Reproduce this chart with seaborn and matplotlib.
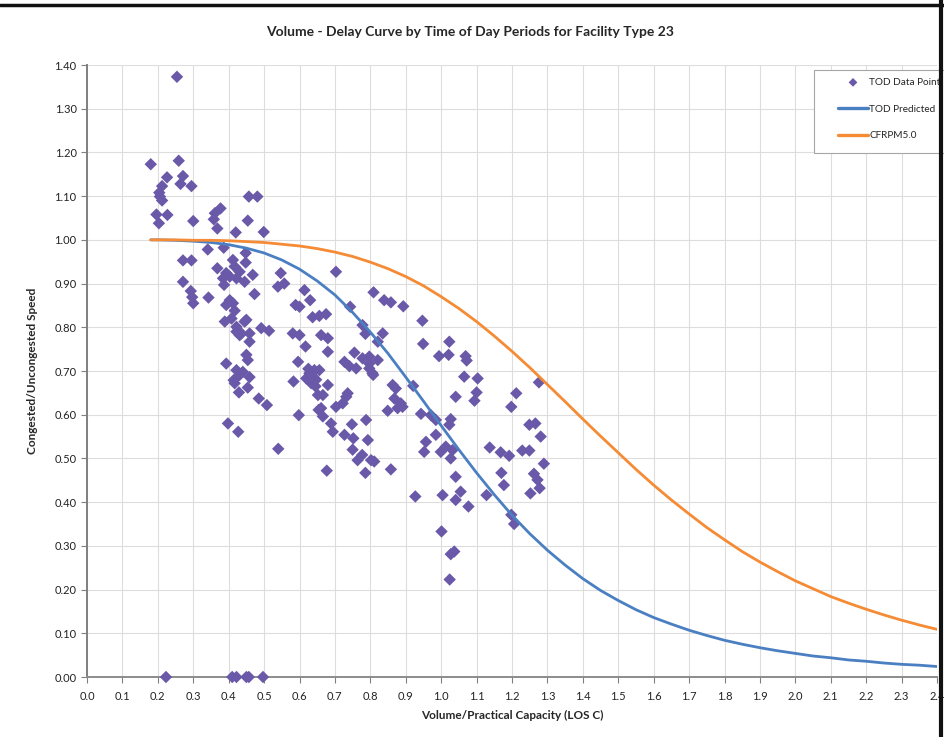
import matplotlib
matplotlib.use("Agg")
import matplotlib.pyplot as plt
from matplotlib.lines import Line2D
from matplotlib.patches import Rectangle
import seaborn as sns
import pandas as pd

# observed TOD points (volume/capacity, congested/uncongested speed)
vc_obs = [
    0.254, 0.180, 0.259, 0.226, 0.271, 0.264, 0.295, 0.212, 0.204, 0.206,
    0.212, 0.457, 0.481, 0.196, 0.227, 0.203, 0.300, 0.377, 0.361, 0.358,
    0.368, 0.454, 0.420, 0.499, 0.341, 0.386, 0.271, 0.295, 0.448, 0.448,
    0.368, 0.412, 0.417, 0.393, 0.431, 0.384, 0.403, 0.422, 0.468, 0.387,
    0.445, 0.271, 0.293, 0.297, 0.300, 0.343, 0.473, 0.403, 0.412, 0.539,
    0.547, 0.557, 0.614, 0.630, 0.703, 0.809, 0.589, 0.600, 0.743, 0.393,
    0.417, 0.389, 0.408, 0.422, 0.436, 0.450, 0.459, 0.459, 0.492, 0.514,
    0.637, 0.656, 0.675, 0.581, 0.600, 0.617, 0.661, 0.680, 0.680, 0.778,
    0.786, 0.755, 0.727, 0.741, 0.760, 0.778, 0.797, 0.806, 0.797, 0.821,
    0.808, 0.797, 0.450, 0.454, 0.393, 0.422, 0.431, 0.414, 0.417, 0.459,
    0.429, 0.454, 0.485, 0.508, 0.398, 0.427, 0.540, 0.596, 0.583, 0.628,
    0.637, 0.647, 0.628, 0.656, 0.642, 0.619, 0.633, 0.645, 0.625, 0.680,
    0.652, 0.666, 0.598, 0.654, 0.666, 0.661, 0.703, 0.722, 0.732, 0.736,
    0.689, 0.694, 0.677, 0.748, 0.788, 0.727, 0.752, 0.793, 0.750, 0.764,
    0.777, 0.802, 0.811, 0.786, 0.858, 0.839, 0.858, 0.893, 0.835, 0.821,
    0.863, 0.872, 0.868, 0.886, 0.877, 0.849, 0.891, 0.947, 0.949, 1.023,
    0.994, 1.021, 1.069, 1.072, 1.065, 1.103, 1.100, 1.094, 1.212, 1.198,
    1.276, 0.921, 1.041, 0.943, 0.971, 0.985, 1.027, 1.023, 1.249, 1.266,
    1.281, 0.985, 0.957, 0.952, 0.999, 1.013, 1.032, 1.027, 1.137, 1.168,
    1.192, 1.229, 1.249, 1.290, 1.041, 1.170, 1.177, 1.262, 1.272, 1.278,
    1.252, 0.927, 1.004, 1.055, 1.128, 1.041, 1.077, 1.198, 1.206, 1.001,
    1.027, 1.037, 1.024, 0.422, 0.431, 0.445, 0.440,
    0.223, 0.410, 0.422, 0.450, 0.457, 0.497,
]
speed_obs = [
    1.373, 1.173, 1.181, 1.143, 1.146, 1.128, 1.123, 1.123, 1.108, 1.099,
    1.090, 1.099, 1.099, 1.058, 1.057, 1.038, 1.043, 1.072, 1.061, 1.047,
    1.026, 1.044, 1.017, 1.018, 0.978, 0.982, 0.953, 0.953, 0.970, 0.948,
    0.935, 0.954, 0.939, 0.924, 0.927, 0.912, 0.916, 0.912, 0.920, 0.897,
    0.904, 0.904, 0.883, 0.869, 0.855, 0.868, 0.876, 0.862, 0.855, 0.893,
    0.924, 0.900, 0.885, 0.862, 0.927, 0.880, 0.851, 0.847, 0.847, 0.851,
    0.838, 0.813, 0.820, 0.801, 0.786, 0.817, 0.786, 0.767, 0.798, 0.792,
    0.823, 0.826, 0.830, 0.786, 0.782, 0.756, 0.782, 0.775, 0.744, 0.805,
    0.785, 0.742, 0.721, 0.711, 0.706, 0.729, 0.717, 0.695, 0.733, 0.725,
    0.691, 0.706, 0.737, 0.725, 0.717, 0.702, 0.691, 0.679, 0.672, 0.686,
    0.651, 0.662, 0.637, 0.622, 0.580, 0.561, 0.522, 0.721, 0.676, 0.695,
    0.687, 0.680, 0.680, 0.702, 0.702, 0.683, 0.672, 0.665, 0.705, 0.668,
    0.645, 0.645, 0.599, 0.611, 0.596, 0.615, 0.618, 0.626, 0.641, 0.649,
    0.580, 0.561, 0.472, 0.578, 0.588, 0.554, 0.546, 0.542, 0.520, 0.496,
    0.508, 0.496, 0.493, 0.467, 0.475, 0.862, 0.857, 0.848, 0.786, 0.767,
    0.668, 0.660, 0.637, 0.626, 0.615, 0.609, 0.618, 0.815, 0.762, 0.767,
    0.734, 0.737, 0.734, 0.724, 0.687, 0.683, 0.651, 0.632, 0.649, 0.618,
    0.674, 0.666, 0.641, 0.602, 0.599, 0.588, 0.590, 0.577, 0.577, 0.580,
    0.550, 0.554, 0.538, 0.515, 0.515, 0.527, 0.519, 0.500, 0.525, 0.514,
    0.506, 0.518, 0.518, 0.488, 0.458, 0.467, 0.439, 0.465, 0.451, 0.432,
    0.420, 0.413, 0.416, 0.424, 0.416, 0.405, 0.390, 0.371, 0.350, 0.333,
    0.281, 0.287, 0.223, 0.790, 0.782, 0.813, 0.698,
    0.0, 0.0, 0.0, 0.0, 0.0, 0.0,
]

# curves
vc_curve = [0.18, 0.20, 0.25, 0.30, 0.35, 0.40, 0.45, 0.50, 0.55, 0.60,
            0.65, 0.70, 0.75, 0.80, 0.85, 0.90, 0.95, 1.00, 1.05, 1.10,
            1.15, 1.20, 1.25, 1.30, 1.35, 1.40, 1.45, 1.50, 1.55, 1.60,
            1.65, 1.70, 1.75, 1.80, 1.85, 1.90, 1.95, 2.00, 2.05, 2.10,
            2.15, 2.20, 2.25, 2.30, 2.35, 2.40, 2.45]
tod_predicted = [1.000, 1.000, 0.999, 0.997, 0.994, 0.989, 0.981, 0.970, 0.954, 0.933,
                 0.906, 0.874, 0.834, 0.789, 0.740, 0.686, 0.631, 0.575, 0.520, 0.467,
                 0.417, 0.370, 0.328, 0.290, 0.256, 0.225, 0.198, 0.175, 0.154, 0.136,
                 0.121, 0.107, 0.095, 0.084, 0.075, 0.067, 0.060, 0.054, 0.048, 0.044,
                 0.039, 0.036, 0.032, 0.029, 0.027, 0.024, 0.022]
cfrpm50 = [1.000, 1.000, 1.000, 0.999, 0.999, 0.998, 0.996, 0.994, 0.990, 0.986,
           0.980, 0.972, 0.962, 0.949, 0.934, 0.916, 0.895, 0.870, 0.843, 0.813,
           0.780, 0.745, 0.708, 0.669, 0.630, 0.590, 0.551, 0.513, 0.475, 0.439,
           0.405, 0.373, 0.342, 0.314, 0.287, 0.263, 0.241, 0.220, 0.202, 0.184,
           0.169, 0.155, 0.142, 0.130, 0.119, 0.109, 0.100]

x_ticks = [round(i * 0.1, 1) for i in range(25)]
y_ticks = [round(i * 0.1, 1) for i in range(15)]

pts = pd.DataFrame({"vc": vc_obs, "speed": speed_obs})
curves = pd.DataFrame({"vc": vc_curve + vc_curve,
                       "speed": tod_predicted + cfrpm50,
                       "series": ["TOD Predicted"] * len(vc_curve) + ["CFRPM5.0"] * len(vc_curve)})

sns.set_style("white")
plt.rcParams["font.family"] = ["Lato", "DejaVu Sans"]

fig = plt.figure(figsize=(9.44, 7.37), dpi=100)
ax = fig.add_axes([87 / 944, 1 - 677 / 737, 850 / 944, 612 / 737])

ax.grid(True, color="#DDDDDD", linewidth=0.8)
ax.set_axisbelow(True)

sns.scatterplot(data=pts, x="vc", y="speed", marker="D", s=40, color="#6A58A8",
                edgecolor="none", ax=ax, label="TOD Data Point", zorder=3, clip_on=False)
sns.lineplot(data=curves, x="vc", y="speed", hue="series",
             palette={"TOD Predicted": "#4A7FC1", "CFRPM5.0": "#F58B34"},
             linewidth=2.0, ax=ax, zorder=4, sort=False)

ax.set_xlim(0, 2.4)
ax.set_ylim(0, 1.4)
ax.set_xticks(x_ticks)
ax.set_xticklabels([f"{v:.1f}" for v in x_ticks])
ax.set_yticks(y_ticks)
ax.set_yticklabels([f"{v:.2f}" for v in y_ticks])
ax.tick_params(axis="both", labelsize=8, color="#808080", length=4,
               direction="out", left=True, bottom=True, labelcolor="#222222")
ax.tick_params(axis="x", pad=6)

for side in ["top", "right"]:
    ax.spines[side].set_visible(False)
ax.spines["left"].set_color("#7F7F7F")
ax.spines["left"].set_linewidth(1.4)
ax.spines["bottom"].set_color("#8C8C8C")
ax.spines["bottom"].set_linewidth(1.4)

ax.set_xlabel("Volume/Practical Capacity (LOS C)", fontsize=8.5, fontweight="bold", labelpad=6)
ax.set_ylabel("Congested/Uncongested Speed", fontsize=8.5, fontweight="bold", labelpad=12)
fig.text(470 / 944, 1 - 32 / 737, "Volume - Delay Curve by Time of Day Periods for Facility Type 23",
         ha="center", va="center", fontsize=10, fontweight="bold")

# legend box runs past the right edge of the screenshot
box = Rectangle((814 / 944, 1 - 153 / 737), 140 / 944, 83 / 737, transform=fig.transFigure,
                facecolor="white", edgecolor="#A6A6A6", linewidth=0.8, clip_on=False, zorder=5)
ax.add_patch(box)
handles, labels = ax.get_legend_handles_labels()
leg = ax.legend(handles, labels, loc="upper left", bbox_to_anchor=(838 / 944, 1 - 78 / 737),
                bbox_transform=fig.transFigure, fontsize=7.2, frameon=False,
                labelspacing=1.75, handlelength=3.0, handletextpad=0.1, borderpad=0,
                markerscale=0.7, borderaxespad=0)
leg.set_zorder(6)
for h in leg.get_lines():
    h.set_linewidth(2.4)

# screenshot frame
fig.add_artist(Line2D([0.0, 1.0], [1 - 5 / 737, 1 - 5 / 737], color="#111111", linewidth=2.5))
fig.add_artist(Line2D([941 / 944, 941 / 944], [0.0, 1.0], color="#111111", linewidth=3))

fig.savefig("out.png", dpi=100)
